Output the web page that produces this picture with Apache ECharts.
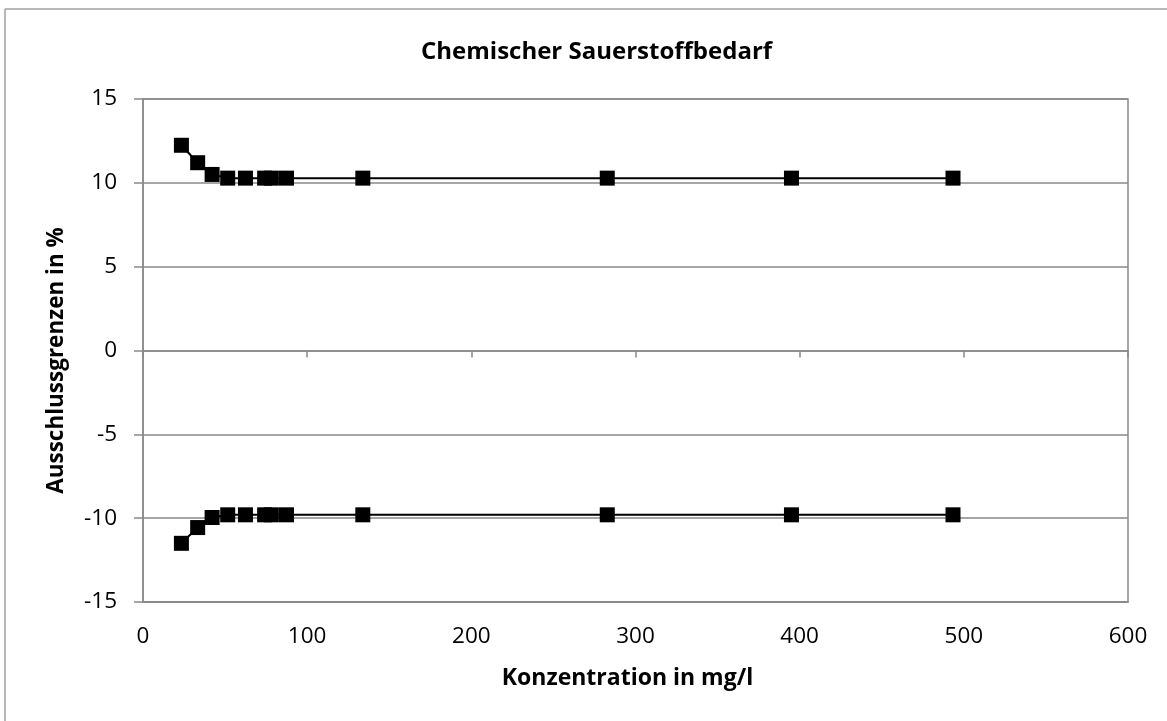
<!DOCTYPE html>
<html>
<head>
<meta charset="utf-8">
<script src="https://cdn.jsdelivr.net/npm/echarts@6/dist/echarts.min.js"></script>
<style>
html,body{margin:0;padding:0;background:#fff;}
#chart{width:1167px;height:721px;}
</style>
</head>
<body>
<div id="chart"></div>
<script>
const title = 'Chemischer Sauerstoffbedarf';
const xName = 'Konzentration in mg/l';
const yName = 'Ausschlussgrenzen in %';
const concentration = [23.4, 33.3, 42.1, 51.6, 62.4, 74.1, 78.2, 87.4, 133.9, 282.8, 395.0, 493.4];
const upperLimit = [12.24, 11.2, 10.5, 10.28, 10.28, 10.28, 10.28, 10.28, 10.28, 10.28, 10.28, 10.28];
const lowerLimit = [-11.5, -10.56, -9.96, -9.8, -9.8, -9.8, -9.8, -9.8, -9.8, -9.8, -9.8, -9.8];

const font = 'Open Sans';
const gray = '#898989';

const chart = echarts.init(document.getElementById('chart'), null, {renderer: 'canvas'});
const pairs = (xs, ys) => xs.map((x, i) => [x, ys[i]]);

const seriesStyle = {
  type: 'line',
  symbol: 'rect',
  symbolSize: 15,
  lineStyle: {color: '#000', width: 2},
  itemStyle: {color: '#000'},
  animation: false,
  z: 5
};

chart.setOption({
  animation: false,
  title: {
    text: title,
    left: 416,
    top: 35,
    textStyle: {fontFamily: font, fontWeight: 'bold', fontSize: 24, color: '#000'}
  },
  grid: {
    left: 143, top: 99, width: 985, height: 503,
    show: true, borderColor: gray, borderWidth: 1.5, backgroundColor: 'transparent'
  },
  graphic: [
    {type: 'line', shape: {x1: 5, y1: 9, x2: 1167, y2: 9}, style: {stroke: '#a0a0a0', lineWidth: 1.5}},
    {type: 'line', shape: {x1: 5, y1: 9, x2: 5, y2: 721}, style: {stroke: '#a0a0a0', lineWidth: 1.5}}
  ],
  xAxis: [
    {
      type: 'value', min: 0, max: 600, interval: 100,
      position: 'bottom',
      name: xName, nameLocation: 'middle', nameGap: 65,
      nameTextStyle: {fontFamily: font, fontWeight: 'bold', fontSize: 23, color: '#000', padding: [0, 16, 0, 0]},
      axisLine: {show: true, onZero: false, lineStyle: {color: gray, width: 1.5}},
      axisTick: {show: false},
      axisLabel: {fontFamily: font, fontSize: 22.5, color: '#000', margin: 23},
      splitLine: {show: false}
    },
    {
      type: 'value', min: 0, max: 600, interval: 100,
      position: 'bottom',
      axisLine: {show: true, onZero: true, lineStyle: {color: gray, width: 1.5}},
      axisTick: {show: true, inside: false, length: 7, lineStyle: {color: gray, width: 1.5}},
      axisLabel: {show: false},
      splitLine: {show: false}
    }
  ],
  yAxis: {
    type: 'value', min: -15, max: 15, interval: 5,
    name: yName, nameLocation: 'middle', nameGap: 75,
    nameTextStyle: {fontFamily: font, fontWeight: 'bold', fontSize: 22.5, color: '#000', padding: [0, 20, 0, 0]},
    axisLine: {show: true, lineStyle: {color: gray, width: 1.5}},
    axisTick: {show: true, inside: false, length: 9, lineStyle: {color: gray, width: 1.5}},
    axisLabel: {fontFamily: font, fontSize: 22.5, color: '#000', margin: 26},
    splitLine: {show: true, lineStyle: {color: gray, width: 1.5}}
  },
  series: [
    Object.assign({name: 'Obere Grenze', data: pairs(concentration, upperLimit)}, seriesStyle),
    Object.assign({name: 'Untere Grenze', data: pairs(concentration, lowerLimit)}, seriesStyle)
  ]
});
</script>
</body>
</html>
